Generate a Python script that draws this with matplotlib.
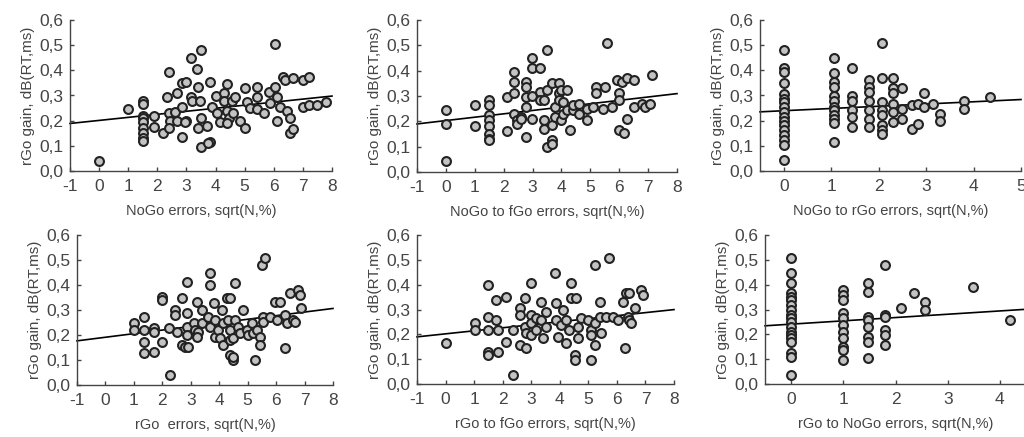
#!/usr/bin/env python3
"""
rGo gain vs error rates: six scatter panels with linear fits
"""

import numpy as np
import matplotlib.pyplot as plt

plt.rcParams["font.family"] = ["Liberation Sans", "DejaVu Sans"]
plt.rcParams["axes.unicode_minus"] = False

YLABEL = "rGo gain, dB(RT,ms)"
TXT = "#444444"

# --- panel 1: NoGo errors
nogo_x = [0.0, 1.0, 1.5, 1.5, 1.5, 1.5, 1.5, 1.5, 1.5, 1.5, 1.5, 1.87, 1.87, 2.2, 2.4, 2.33,
          2.4, 2.45, 2.4, 2.67, 2.67, 2.62, 2.85, 2.85, 2.85, 3.0, 3.0, 2.95, 3.17, 3.35, 3.5,
          3.17, 3.2, 3.4, 3.47, 3.5, 3.4, 3.5, 3.8, 3.75, 3.7, 3.82, 3.87, 4.0, 4.05, 4.16,
          4.28, 4.28, 4.4, 4.4, 4.45, 4.4, 4.56, 4.6, 4.67, 4.85, 5.0, 5.02, 5.08, 5.2, 5.43,
          5.43, 5.43, 5.65, 5.83, 5.88, 6.05, 6.05, 6.1, 6.1, 6.22, 6.33, 6.4, 6.45, 6.55, 6.57,
          6.66, 6.67, 7.0, 7.2, 7.0, 7.2, 7.5, 7.8]
nogo_y = [0.04, 0.245, 0.28, 0.265, 0.22, 0.21, 0.195, 0.17, 0.15, 0.13, 0.12, 0.22, 0.175,
          0.15, 0.395, 0.295, 0.23, 0.2, 0.17, 0.31, 0.2, 0.235, 0.35, 0.255, 0.135, 0.355, 0.2,
          0.195, 0.45, 0.405, 0.48, 0.295, 0.28, 0.335, 0.28, 0.21, 0.17, 0.095, 0.115, 0.11,
          0.18, 0.355, 0.255, 0.30, 0.23, 0.195, 0.31, 0.28, 0.345, 0.24, 0.21, 0.19, 0.28,
          0.23, 0.295, 0.2, 0.17, 0.33, 0.275, 0.25, 0.335, 0.295, 0.245, 0.23, 0.315, 0.27,
          0.505, 0.335, 0.295, 0.2, 0.255, 0.375, 0.36, 0.24, 0.21, 0.15, 0.165, 0.37, 0.36,
          0.375, 0.255, 0.262, 0.262, 0.275]

# --- panel 2: NoGo to fGo errors
nf_x = [0.0, 0.0, 0.0, 1.0, 1.0, 1.5, 1.5, 1.5, 1.5, 1.5, 1.5, 1.5, 1.5, 2.1, 2.1, 2.35,
        2.35, 2.35, 2.35, 2.45, 2.45, 2.6, 2.6, 2.78, 2.78, 2.78, 2.78, 2.78, 2.97, 2.97, 2.97,
        2.97, 3.26, 3.26, 3.26, 3.38, 3.38, 3.38, 3.5, 3.5, 3.5, 3.66, 3.66, 3.66, 3.66, 3.78,
        3.78, 3.9, 3.9, 3.9, 4.0, 4.0, 4.07, 4.07, 4.2, 4.2, 4.3, 4.4, 4.4, 4.6, 4.6, 4.9, 4.9,
        5.1, 5.2, 5.2, 5.5, 5.57, 5.45, 5.75, 5.93, 6.0, 6.0, 6.0, 6.16, 6.1, 6.27, 6.27, 6.5,
        6.5, 6.8, 6.9, 7.13, 7.08]
nf_y = [0.245, 0.19, 0.045, 0.265, 0.18, 0.285, 0.265, 0.225, 0.205, 0.18, 0.15, 0.13, 0.125,
        0.295, 0.16, 0.395, 0.355, 0.31, 0.23, 0.205, 0.19, 0.218, 0.21, 0.355, 0.335, 0.295,
        0.255, 0.138, 0.45, 0.41, 0.30, 0.21, 0.41, 0.315, 0.285, 0.283, 0.17, 0.205, 0.48,
        0.325, 0.1, 0.35, 0.125, 0.11, 0.185, 0.257, 0.218, 0.35, 0.31, 0.283, 0.323, 0.205,
        0.277, 0.23, 0.323, 0.244, 0.165, 0.244, 0.264, 0.27, 0.23, 0.25, 0.205, 0.257, 0.335,
        0.31, 0.335, 0.508, 0.25, 0.257, 0.363, 0.31, 0.283, 0.165, 0.152, 0.357, 0.37, 0.21,
        0.363, 0.257, 0.27, 0.257, 0.382, 0.27]

# --- panel 3: NoGo to rGo errors
nr_x = [0] * 17 + [1.05] * 12 + [1.44] * 6 + [1.8] * 7 + [2.08] * 8 + [2.3] * 6 + [2.5] * 3 \
    + [2.7, 2.7, 2.83, 2.83, 2.95, 2.95, 3.15, 3.3, 3.3, 3.8, 3.8, 4.35]
nr_y = [0.48, 0.41, 0.395, 0.348, 0.305, 0.288, 0.275, 0.255, 0.235, 0.215, 0.2, 0.182, 0.162,
        0.142, 0.122, 0.102, 0.043,
        0.448, 0.388, 0.355, 0.335, 0.30, 0.28, 0.255, 0.242, 0.222, 0.208, 0.189, 0.115,
        0.408, 0.30, 0.28, 0.242, 0.215, 0.175,
        0.36, 0.335, 0.315, 0.28, 0.242, 0.208, 0.175,
        0.507, 0.368, 0.275, 0.242, 0.222, 0.182, 0.162, 0.149,
        0.368, 0.328, 0.308, 0.268, 0.235, 0.195,
        0.328, 0.248, 0.208,
        0.262, 0.168, 0.188, 0.268, 0.308, 0.255, 0.268, 0.228, 0.2, 0.28, 0.248, 0.295]

# --- panel 4: rGo errors
rgo_x = [1.0, 1.0, 1.35, 1.37, 1.35, 1.37, 1.7, 1.7, 1.7, 1.99, 1.99, 1.99, 2.22, 2.28, 2.45,
         2.45, 2.5, 2.69, 2.69, 2.8, 2.86, 2.86, 2.86, 2.86, 2.9, 3.1, 3.15, 3.21, 3.27, 3.21,
         3.39, 3.39, 3.62, 3.68, 3.68, 3.68, 3.8, 3.86, 3.86, 3.97, 4.03, 4.09, 4.15, 4.15,
         4.26, 4.38, 4.32, 4.38, 4.38, 4.38, 4.5, 4.5, 4.56, 4.5, 4.56, 4.67, 4.73, 4.85, 4.96,
         5.02, 5.14, 5.2, 5.26, 5.32, 5.43, 5.43, 5.49, 5.61, 5.55, 5.55, 5.78, 5.96, 6.02,
         6.13, 6.31, 6.31, 6.37, 6.48, 6.6, 6.66, 6.78, 6.83, 6.89]
rgo_y = [0.247, 0.22, 0.273, 0.22, 0.173, 0.127, 0.227, 0.213, 0.133, 0.353, 0.34, 0.173,
         0.227, 0.04, 0.3, 0.28, 0.213, 0.347, 0.16, 0.153, 0.413, 0.287, 0.233, 0.2, 0.153,
         0.247, 0.22, 0.333, 0.213, 0.193, 0.3, 0.247, 0.273, 0.233, 0.447, 0.4, 0.327, 0.26,
         0.193, 0.22, 0.187, 0.3, 0.247, 0.16, 0.347, 0.347, 0.26, 0.22, 0.18, 0.12, 0.1, 0.113,
         0.407, 0.187, 0.26, 0.233, 0.207, 0.3, 0.22, 0.2, 0.247, 0.207, 0.1, 0.22, 0.193, 0.16,
         0.48, 0.507, 0.273, 0.253, 0.273, 0.333, 0.26, 0.333, 0.147, 0.28, 0.247, 0.367, 0.26,
         0.253, 0.38, 0.36, 0.307]

# --- panel 5: rGo to fGo errors
rf_x = [0.0, 1.02, 1.02, 1.48, 1.48, 1.48, 1.48, 1.48, 1.77, 1.77, 1.83, 1.83, 2.12, 2.12,
        2.36, 2.36, 2.6, 2.6, 2.6, 2.77, 2.77, 2.82, 2.82, 3.0, 3.0, 3.0, 3.0, 3.17, 3.17, 3.35,
        3.35, 3.4, 3.52, 3.52, 3.82, 3.87, 3.87, 3.93, 4.05, 4.1, 4.22, 4.22, 4.34, 4.4, 4.4,
        4.52, 4.52, 4.57, 4.63, 4.63, 4.75, 4.98, 5.1, 5.1, 5.1, 5.22, 5.22, 5.22, 5.4, 5.4,
        5.45, 5.74, 5.62, 5.86, 6.03, 6.2, 6.27, 6.32, 6.44, 6.38, 6.44, 6.5, 6.62, 6.85, 6.9]
rf_y = [0.166, 0.244, 0.217, 0.4, 0.271, 0.217, 0.13, 0.117, 0.338, 0.258, 0.217, 0.13, 0.352,
        0.17, 0.217, 0.036, 0.305, 0.278, 0.157, 0.345, 0.23, 0.144, 0.204, 0.405, 0.278, 0.244,
        0.197, 0.217, 0.264, 0.331, 0.258, 0.184, 0.29, 0.23, 0.446, 0.325, 0.258, 0.19, 0.237,
        0.298, 0.164, 0.258, 0.217, 0.405, 0.345, 0.117, 0.097, 0.345, 0.23, 0.184, 0.264,
        0.258, 0.217, 0.197, 0.097, 0.48, 0.244, 0.157, 0.331, 0.271, 0.204, 0.506, 0.271,
        0.271, 0.258, 0.331, 0.144, 0.365, 0.365, 0.271, 0.258, 0.244, 0.305, 0.378, 0.358]

# --- panel 6: rGo to NoGo errors
rn_x = [0] * 19 + [1.0] * 11 + [1.47] * 8 + [1.8] * 6 + [2.1, 2.35, 2.56, 2.56, 3.48, 4.2]
rn_y = [0.506, 0.446, 0.405, 0.365, 0.352, 0.338, 0.318, 0.298, 0.278, 0.264, 0.251, 0.231,
        0.211, 0.197, 0.184, 0.17, 0.123, 0.11, 0.036,
        0.378, 0.358, 0.338, 0.285, 0.264, 0.238, 0.211, 0.184, 0.15, 0.137, 0.097,
        0.405, 0.372, 0.271, 0.258, 0.231, 0.19, 0.17, 0.103,
        0.48, 0.278, 0.271, 0.217, 0.197, 0.157,
        0.305, 0.365, 0.331, 0.298, 0.392, 0.258]

# fitted lines (intercept, slope)
fits = [(0.201, 0.0121), (0.203, 0.0133), (0.2395, 0.0089),
        (0.191, 0.0144), (0.202, 0.0122), (0.241, 0.0133)]

xlabels = ["NoGo errors, sqrt(N,%)", "NoGo to fGo errors, sqrt(N,%)",
           "NoGo to rGo errors, sqrt(N,%)", "rGo  errors, sqrt(N,%)",
           "rGo to fGo errors, sqrt(N,%)", "rGo to NoGo errors, sqrt(N,%)"]
xdata = [nogo_x, nf_x, nr_x, rgo_x, rf_x, rn_x]
ydata = [nogo_y, nf_y, nr_y, rgo_y, rf_y, rn_y]
xlims = [(-1, 8), (-1, 8), (-0.5, 5), (-1, 8), (-1, 8), (-0.5, 4.5)]
xticks = [range(-1, 9), range(-1, 9), range(0, 6), range(-1, 9), range(-1, 9), range(0, 5)]

# axes boxes in pixels: left, top, right, bottom
W, H = 1024, 437
boxes = [(70, 20, 332, 171), (417, 20, 677, 172), (760, 20, 1021, 171),
         (77, 235, 333, 385), (417, 235, 674, 384), (765, 235, 1026, 384)]

fig = plt.figure(figsize=(W / 100, H / 100), dpi=100)

for i in range(6):
    l, t, r, b = boxes[i]
    ax = fig.add_axes([l / W, 1 - b / H, (r - l) / W, (b - t) / H])
    ax.set_xlim(*xlims[i])
    ax.set_ylim(0, 0.6)
    x0, x1 = xlims[i]
    a, s = fits[i]
    xx = np.array([x0, x1])
    ax.plot(xx, a + s * xx, color="black", lw=1.2, zorder=2, clip_on=False)
    ax.plot(xdata[i], ydata[i], ls="none", marker="o", ms=6.4, mfc="#c3c3c3",
            mec="#222222", mew=1.5, zorder=3, clip_on=False)
    for side in ("top", "right"):
        ax.spines[side].set_visible(False)
    for side in ("left", "bottom"):
        ax.spines[side].set_color("#444444")
        ax.spines[side].set_linewidth(1.0)
    ax.set_xticks(list(xticks[i]))
    ax.set_yticks(np.arange(0, 0.61, 0.1))
    ax.set_yticklabels([f"{v:.1f}".replace(".", ",") for v in np.arange(0, 0.61, 0.1)])
    ax.tick_params(direction="in", length=3, width=1, color="#444444",
                   labelsize=12.5, labelcolor=TXT)
    ax.tick_params(axis="x", pad=6)
    ax.tick_params(axis="y", pad=5)
    ax.set_xlabel(xlabels[i], fontsize=10.5, color=TXT, labelpad=7)
    ax.set_ylabel(YLABEL, fontsize=11, color=TXT, labelpad=3)

fig.savefig("out.png", dpi=100)
